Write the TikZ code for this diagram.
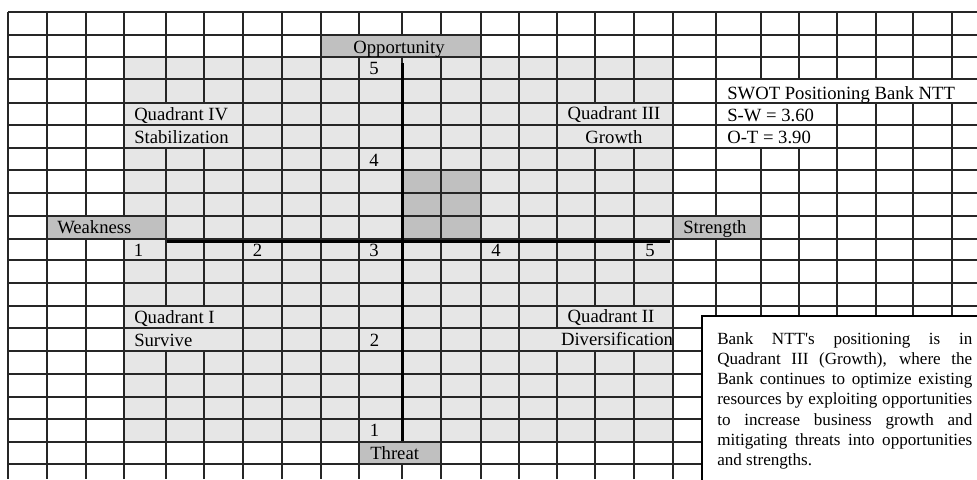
\documentclass[tikz,border=0pt]{standalone}
\usepackage{fontspec}
\setmainfont{Liberation Serif}
\usetikzlibrary{positioning}
\definecolor{zonegris}{HTML}{E6E6E6}
\definecolor{etiqgris}{HTML}{C0C0C0}

\begin{document}
\begin{tikzpicture}[x=0.75pt, y=-0.75pt,
  every node/.style={font=\fontsize{14}{16}\selectfont, inner sep=0pt},
  grille/.style={black!85, line width=0.9pt},
  fusion/.style={draw=black!85, line width=0.9pt},
  axe/.style={black, line width=2.4pt},
  note/.style={font=\fontsize{12.8}{15.2}\selectfont, text width=191.25pt, align=justify}]
  \path[use as bounding box, clip] (0,0) rectangle (977,479);
  \fill[white] (0,0) rectangle (977,479);

  % Zone des quadrants
  \fill[zonegris] (124,57) rectangle (673,442);
  \fill[etiqgris] (402,170) rectangle (481,239);

  % Grille
  \foreach \x in {8,47,86,124,166,204,243,282,321,359,402,441,481,519,557,595,634,673,716,761,799,837,876,913,952}
    \draw[grille] (\x,12) -- (\x,479);
  \foreach \y in {12,35,57,79,103,125,148,170,193,216,239,260,283,306,328,351,374,397,419,442,464}
    \draw[grille] (8,\y) -- (977,\y);

  % Cellules fusionnées
  \filldraw[fusion, fill=etiqgris] (321,35) rectangle (481,57);
  \filldraw[fusion, fill=etiqgris] (47,216) rectangle (166,239);
  \filldraw[fusion, fill=etiqgris] (673,216) rectangle (761,239);
  \filldraw[fusion, fill=etiqgris] (359,442) rectangle (441,464);
  \filldraw[fusion, fill=zonegris] (124,103) rectangle (243,125);
  \filldraw[fusion, fill=zonegris] (124,125) rectangle (243,148);
  \filldraw[fusion, fill=zonegris] (557,103) rectangle (673,125);
  \filldraw[fusion, fill=zonegris] (557,125) rectangle (673,148);
  \filldraw[fusion, fill=zonegris] (124,306) rectangle (243,328);
  \filldraw[fusion, fill=zonegris] (124,328) rectangle (243,351);
  \filldraw[fusion, fill=zonegris] (557,306) rectangle (673,328);
  \filldraw[fusion, fill=zonegris] (519,328) rectangle (673,351);
  \filldraw[fusion, fill=white] (716,79) rectangle (990,103);
  \filldraw[fusion, fill=white] (716,103) rectangle (837,125);
  \filldraw[fusion, fill=white] (716,125) rectangle (837,148);

  % Etiquettes des axes
  \node[anchor=base] (opport) at (399,53) {Opportunity};
  \node[anchor=base west] (faib) at (57,233.5) {Weakness};
  \node[anchor=base west] (force) at (683,233.5) {Strength};
  \node[anchor=base west] (menace) at (370,459) {Threat};

  % Quadrants
  \node[anchor=base west] (quadIV) at (134,120.5) {Quadrant IV};
  \node[anchor=base west] (stabil) at (134,143) {Stabilization};
  \node[anchor=base] (quadIII) at (614,119.5) {Quadrant III};
  \node[anchor=base] (croiss) at (614,143) {Growth};
  \node[anchor=base west] (quadI) at (134,323.5) {Quadrant I};
  \node[anchor=base west] (survie) at (134,346) {Survive};
  \node[anchor=base] (quadII) at (611,322.5) {Quadrant II};
  \node[anchor=base] (divers) at (617,345.5) {Diversification};

  % Position SWOT
  \node[anchor=base west] (swot) at (727,99.5) {SWOT Positioning Bank NTT};
  \node[anchor=base west] (sw) at (727,121.5) {S-W = 3.60};
  \node[anchor=base west] (ot) at (727,143) {O-T = 3.90};

  % Graduations
  \node[anchor=base] (v5) at (374,74) {5};
  \node[anchor=base] (v4) at (374,166) {4};
  \node[anchor=base] (c3) at (374,256.5) {3};
  \node[anchor=base] (v2) at (374.5,346) {2};
  \node[anchor=base] (v1) at (374.5,436.5) {1};
  \node[anchor=base] (h1) at (138.5,256.5) {1};
  \node[anchor=base] (h2) at (257.5,256.5) {2};
  \node[anchor=base] (h4) at (496,256.5) {4};
  \node[anchor=base] (h5) at (650,256.5) {5};

  % Axes
  \coordinate (haut) at (402.5,63);
  \coordinate (bas) at (402.5,441);
  \coordinate (gauche) at (167,241.5);
  \coordinate (droite) at (670,241.5);
  \draw[axe] (haut) -- (bas);
  \draw[axe] (gauche) -- (droite);

  % Encadre de conclusion
  \filldraw[fill=white, draw=black, line width=0.9pt] (702,316) rectangle (995,495);
  \node[note, anchor=north west] (texte) at (717,332) {Bank NTT\textquotesingle s positioning is in\linebreak
    Quadrant III (Growth), where the\linebreak
    Bank continues to optimize existing\linebreak
    resources by exploiting opportunities\linebreak
    to increase business growth and\linebreak
    mitigating threats into opportunities\linebreak
    and strengths.};
\end{tikzpicture}
\end{document}
